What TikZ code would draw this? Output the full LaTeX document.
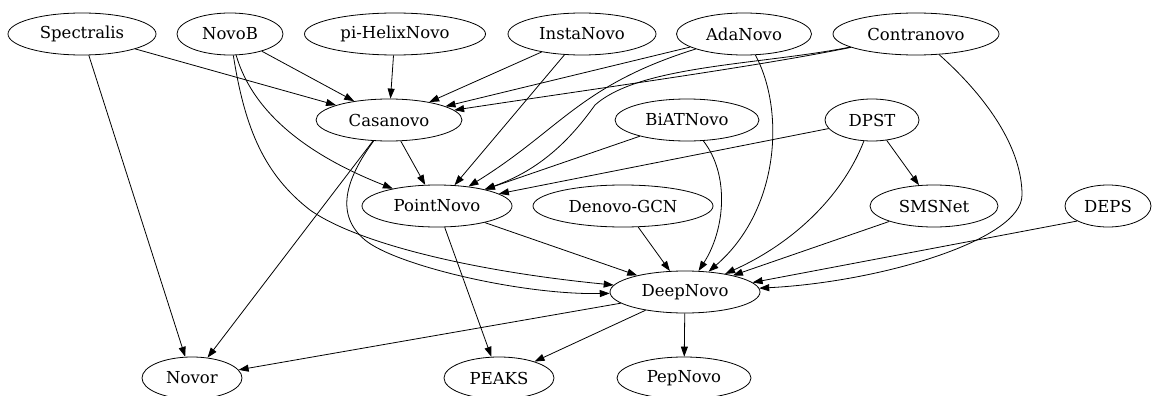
\documentclass[tikz,border=0pt]{standalone}
\usepackage{fontspec}
\setmainfont{DejaVu Serif}
\usetikzlibrary{shapes.geometric,arrows.meta}
\begin{document}
\begin{tikzpicture}[x=1pt,y=-1pt,
  font=\fontsize{16.5}{19}\selectfont,
  nd/.style={draw, ellipse, inner sep=0pt, minimum height=42pt, line width=0.8pt},
  ed/.style={line width=0.8pt, -{Triangle[length=10pt,width=7pt]}}]
\useasboundingbox (0,0) rectangle (1154,396);
% row 1
\node[nd, minimum width=148pt] (Spectralis) at (82,34) {Spectralis};
\node[nd, minimum width=106pt] (NovoB) at (230,34) {NovoB};
\node[nd, minimum width=181pt] (Helix) at (395,34) {pi-HelixNovo};
\node[nd, minimum width=148pt] (Insta) at (582,34) {InstaNovo};
\node[nd, minimum width=135pt] (Ada) at (744,34) {AdaNovo};
\node[nd, minimum width=166pt] (Contra) at (916,34) {Contranovo};
% row 2
\node[nd, minimum width=146pt] (Casa) at (389,120) {Casanovo};
\node[nd, minimum width=144pt] (BiAT) at (687,120) {BiATNovo};
\node[nd, minimum width=94pt] (DPST) at (872,120) {DPST};
% row 3
\node[nd, minimum width=150pt] (Point) at (437,206) {PointNovo};
\node[nd, minimum width=180pt] (GCN) at (623,206) {Denovo-GCN};
\node[nd, minimum width=128pt] (SMS) at (934,206) {SMSNet};
\node[nd, minimum width=86pt] (DEPS) at (1108,206) {DEPS};
% row 4
\node[nd, minimum width=150pt] (Deep) at (685,292) {DeepNovo};
% row 5
\node[nd, minimum width=100pt] (Novor) at (192,378) {Novor};
\node[nd, minimum width=110pt] (PEAKS) at (499,378) {PEAKS};
\node[nd, minimum width=134pt] (Pep) at (684,378) {PepNovo};

% edges into Casanovo
\draw[ed] (Spectralis) -- (Casa);
\draw[ed] (NovoB) -- (Casa);
\draw[ed] (Helix) -- (Casa);
\draw[ed] (Insta) -- (Casa);
\draw[ed] (Ada) -- (Casa);
\draw[ed] (Contra) .. controls (760,66) and (600,88) .. (Casa);
% edges into PointNovo
\draw[ed] (NovoB) .. controls (255,120) and (320,160) .. (Point);
\draw[ed] (Casa) -- (Point);
\draw[ed] (Insta) -- (Point);
\draw[ed] (Ada) .. controls (580,85) and (560,130) .. (Point);
\draw[ed] (Contra) .. controls (760,65) and (640,65) .. (595,105) .. controls (570,140) and (540,170) .. (Point);
\draw[ed] (BiAT) -- (Point);
\draw[ed] (DPST) -- (Point);
% edges into DeepNovo
\draw[ed] (NovoB) .. controls (245,130) and (265,175) .. (310,210) .. controls (360,245) and (480,272) .. (Deep);
\draw[ed] (Casa) .. controls (345,180) and (335,215) .. (365,240) .. controls (395,265) and (520,295) .. (Deep);
\draw[ed] (Point) -- (Deep);
\draw[ed] (GCN) -- (Deep);
\draw[ed] (Ada) .. controls (785,110) and (780,210) .. (Deep);
\draw[ed] (BiAT) .. controls (730,175) and (725,230) .. (Deep);
\draw[ed] (DPST) .. controls (845,190) and (800,240) .. (Deep);
\draw[ed] (SMS) -- (Deep);
\draw[ed] (DEPS.206) -- (Deep.8);
\draw[ed] (Contra) .. controls (990,100) and (1022,150) .. (1022,195) .. controls (1022,240) and (880,282) .. (Deep);
% other edges
\draw[ed] (DPST) -- (SMS);
\draw[ed] (Spectralis) -- (Novor);
\draw[ed] (Casa) -- (Novor);
\draw[ed] (Point) -- (PEAKS);
\draw[ed] (Deep) -- (Novor);
\draw[ed] (Deep) -- (PEAKS);
\draw[ed] (Deep) -- (Pep);
\end{tikzpicture}
\end{document}
